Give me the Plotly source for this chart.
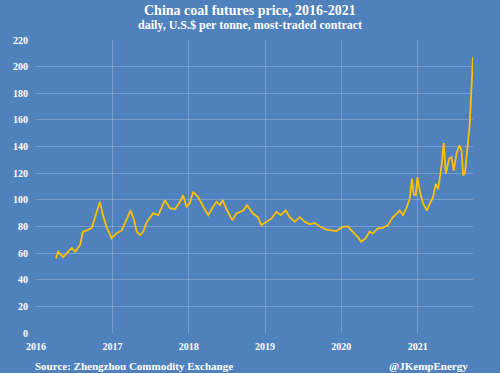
import plotly.graph_objects as go

dates = [
    "2016-04-05", "2016-04-16", "2016-05-10", "2016-06-20", "2016-07-06", "2016-07-30",
    "2016-08-12", "2016-08-31", "2016-09-24", "2016-10-14", "2016-11-02", "2016-11-16",
    "2016-12-04", "2016-12-28", "2017-01-21", "2017-02-14", "2017-03-10", "2017-03-29",
    "2017-04-14", "2017-04-27", "2017-05-12", "2017-05-28", "2017-06-13", "2017-07-15",
    "2017-08-08", "2017-09-09", "2017-10-03", "2017-10-27", "2017-11-20", "2017-12-05",
    "2017-12-21", "2018-01-06", "2018-01-22", "2018-02-15", "2018-03-11", "2018-04-04",
    "2018-04-28", "2018-05-14", "2018-05-30", "2018-06-12", "2018-07-03", "2018-07-29",
    "2018-08-17", "2018-09-18", "2018-10-07", "2018-11-04", "2018-11-28", "2018-12-14",
    "2019-01-08", "2019-02-01", "2019-02-25", "2019-03-16", "2019-04-10", "2019-04-29",
    "2019-05-23", "2019-06-16", "2019-07-10", "2019-08-03", "2019-08-27", "2019-09-20",
    "2019-10-22", "2019-11-22", "2019-12-08", "2020-01-08", "2020-02-01", "2020-02-25",
    "2020-03-20", "2020-04-05", "2020-04-26", "2020-05-15", "2020-05-31", "2020-06-24",
    "2020-07-18", "2020-08-11", "2020-09-04", "2020-09-23", "2020-10-06", "2020-10-22",
    "2020-11-07", "2020-11-23", "2020-12-04", "2020-12-12", "2020-12-22", "2020-12-30",
    "2021-01-10", "2021-01-26", "2021-02-14", "2021-02-27", "2021-03-15", "2021-03-28",
    "2021-04-08", "2021-04-24", "2021-05-05", "2021-05-15", "2021-05-31", "2021-06-11",
    "2021-06-22", "2021-07-05", "2021-07-18", "2021-07-29", "2021-08-06", "2021-08-14",
    "2021-08-21", "2021-08-28", "2021-09-06", "2021-09-14", "2021-09-22",
]
prices = [
    56, 61, 57, 64, 61, 66,
    76, 77, 79, 90, 98.5, 88.5,
    79.5, 71, 75, 77, 86, 92,
    85, 76, 73.5, 76, 83, 90,
    88.5, 99.7, 93.7, 93, 98.5, 103.5,
    95, 97.5, 106, 102, 95, 88.5,
    95, 98.5, 96, 100, 92, 84.7,
    89.7, 92, 96, 89.7, 87, 81,
    83.5, 86, 91, 88.5, 92, 87,
    83.5, 87, 83.5, 81.7, 82.7, 80,
    77.7, 77, 76.5, 79.7, 80, 76,
    72, 68.5, 71, 76, 74.7, 78.5,
    79, 81, 87, 89.7, 92, 88.5,
    93.5, 101, 116, 104, 103.5, 117,
    107, 97, 92, 97, 102, 112,
    108, 125, 142.7, 119.7, 131, 132,
    122, 134.7, 141, 137, 118.5, 119.7,
    132, 142, 156, 182, 207,
]

year_ticks = ["2016-01-01", "2017-01-01", "2018-01-01", "2019-01-01", "2020-01-01", "2021-01-01"]
year_labels = ["2016", "2017", "2018", "2019", "2020", "2021"]
y_ticks = list(range(0, 221, 20))

title = "China coal futures price, 2016-2021"
subtitle = "daily, U.S.$ per tonne, most-traded contract"
source = "Source: Zhengzhou Commodity Exchange"
credit = "@JKempEnergy"

BG = "#4F81BD"
GRID = "rgba(255,255,255,0.22)"
FONT = "Liberation Serif"

fig = go.Figure()
fig.add_trace(go.Scatter(
    x=dates, y=prices, mode="lines",
    line=dict(color="#FFC000", width=1.8),
    hoverinfo="skip", showlegend=False,
))

fig.update_layout(
    width=500, height=373,
    margin=dict(l=36, r=27, t=40, b=40),
    paper_bgcolor=BG, plot_bgcolor=BG,
    font=dict(family=FONT, color="white", size=10),
    showlegend=False,
)
fig.update_xaxes(
    range=["2016-01-01", "2021-09-22"],
    tickvals=year_ticks, ticktext=year_labels,
    showgrid=True, gridcolor=GRID, gridwidth=1,
    zeroline=False, showline=False, ticks="",
    ticklabelstandoff=6,
    tickfont=dict(family=FONT, size=10, color="white", weight="bold"),
)
fig.update_yaxes(
    range=[0, 220], tickvals=y_ticks,
    showgrid=True, gridcolor=GRID, gridwidth=1,
    zeroline=False, showline=False, ticks="",
    ticklabelstandoff=7,
    tickfont=dict(family=FONT, size=10, color="white", weight="bold"),
)

fig.add_annotation(text="<b>" + title + "</b>", xref="paper", yref="paper",
                   x=0.489, y=1.102, xanchor="center", yanchor="middle", showarrow=False,
                   font=dict(family=FONT, size=14, color="white"))
fig.add_annotation(text="<b>" + subtitle + "</b>", xref="paper", yref="paper",
                   x=0.489, y=1.052, xanchor="center", yanchor="middle", showarrow=False,
                   font=dict(family=FONT, size=12, color="white"))
fig.add_annotation(text="<b>" + source + "</b>", xref="paper", yref="paper",
                   x=-0.007, y=-0.113, xanchor="left", yanchor="middle", showarrow=False,
                   font=dict(family=FONT, size=11, color="white"))
fig.add_annotation(text="<b>" + credit + "</b>", xref="paper", yref="paper",
                   x=0.993, y=-0.113, xanchor="right", yanchor="middle", showarrow=False,
                   font=dict(family=FONT, size=11, color="white"))

fig.write_html("out.html", config={"displayModeBar": False},
               post_script="document.body.style.margin='0';")
